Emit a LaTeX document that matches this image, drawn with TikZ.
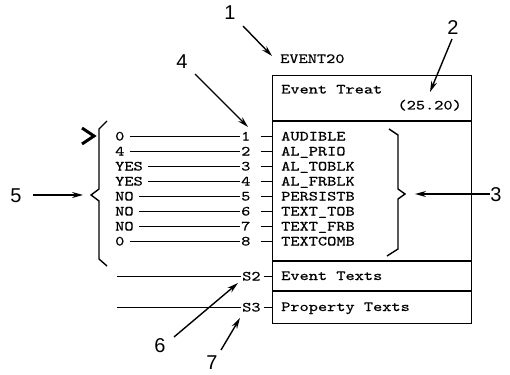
\documentclass[tikz,border=0pt]{standalone}
\usepackage{fontspec}
\newfontfamily\monof[Extension=.otf, FakeStretch=1.25, FakeBold=0.5]{lmmono10-regular}
\newfontfamily\sansf{Liberation Sans}
\usetikzlibrary{arrows.meta}
\begin{document}
\begin{tikzpicture}[x=1pt,y=-1pt,
  mono/.style={font=\monof\fontsize{14}{14}\selectfont, inner sep=0pt, text height=8.5pt, text depth=0pt, anchor=base west},
  callout/.style={font=\sansf\fontsize{20}{20}\selectfont, inner sep=1pt},
  ptr/.style={line width=1.4pt, -{Stealth[length=11pt,width=6pt]}},
  ln/.style={line width=1.4pt},
  brc/.style={line width=1.4pt, line join=miter}]
\useasboundingbox (0,0) rectangle (510,374);
% main box
\node[draw, line width=1.3pt, minimum width=199pt, minimum height=248pt, anchor=north west, inner sep=0pt] (box) at (272,75) {};
\coordinate (d1) at (0,121);
\coordinate (d2) at (0,261);
\coordinate (d3) at (0,291);
\draw[ln] (box.west |- d1) -- (box.east |- d1);
\draw[ln] (box.west |- d2) -- (box.east |- d2);
\draw[ln] (box.west |- d3) -- (box.east |- d3);
% header texts
\node[mono] (ev20) at (280,63) {EVENT20};
\node[mono] (treat) at (281,93.5) {Event Treat};
\node[mono, anchor=base east] (num) at (462,109.5) {(25.20)};
% rows
\foreach \i/\v/\p in {1/0/AUDIBLE,2/4/AL\_PRIO,3/YES/AL\_TOBLK,4/YES/AL\_FRBLK,5/NO/PERSISTB,6/NO/TEXT\_TOB,7/NO/TEXT\_FRB,8/0/TEXTCOMB}{
  \pgfmathsetmacro{\yy}{140.5+15*(\i-1)}
  \node[mono] (v\i) at (115,\yy) {\v};
  \node[mono] (n\i) at (241,\yy) {\i};
  \node[mono] (p\i) at (281,\yy) {\p};
  \draw[ln] ([xshift=5pt]v\i.east) -- ([xshift=-1pt]n\i.west);
  \draw[ln] ([xshift=10pt]n\i.east) -- (box.west |- n\i.east);
}
% lower sections
\node[mono] (s2) at (242,280.5) {S2};
\node[mono] (s3) at (242,311.5) {S3};
\node[mono] (etx) at (281,280) {Event Texts};
\node[mono] (ptx) at (281,311) {Property Texts};
\coordinate (l2) at (117,276);
\coordinate (l3) at (117,307.5);
\draw[ln] (l2 |- s2.west) -- ([xshift=-1pt]s2.west);
\draw[ln] (l3 |- s3.west) -- ([xshift=-1pt]s3.west);
\draw[ln] ([xshift=3pt]s2.east) -- (box.west |- s2.east);
\draw[ln] ([xshift=3pt]s3.east) -- (box.west |- s3.east);
% braces
\draw[brc] (107,121) -- (99,129) -- (99,189) -- (91,195) -- (99,201) -- (99,259) -- (107,266);
\draw[brc] (389,129) -- (398,135) -- (398,189) -- (405,194) -- (398,199) -- (398,249) -- (387,256);
% chevron
\draw[line width=3pt, line join=miter] (82,128) -- (94,136) -- (82,144);
% callouts
\node[callout] (c1) at (230,13) {1};
\node[callout] (c2) at (453,28) {2};
\node[callout] (c3) at (496,195) {3};
\node[callout] (c4) at (182,62) {4};
\node[callout] (c5) at (16,196) {5};
\node[callout] (c6) at (160,346) {6};
\node[callout] (c7) at (212,363) {7};
\coordinate (t1) at (272,56);
\coordinate (t2) at (430,92);
\coordinate (t3) at (415,194);
\coordinate (t4) at (248,127);
\coordinate (t5) at (83,195);
\coordinate (t6) at (238,283);
\coordinate (t7) at (240,318);
\draw[ptr] (243,26) -- (t1);
\draw[ptr] (452,39) -- (t2);
\draw[ptr] (490,194) -- (t3);
\draw[ptr] (195,74) -- (t4);
\draw[ptr] (33,195) -- (t5);
\draw[ptr] (174,337) -- (t6);
\draw[ptr] (221,350) -- (t7);
\end{tikzpicture}
\end{document}
